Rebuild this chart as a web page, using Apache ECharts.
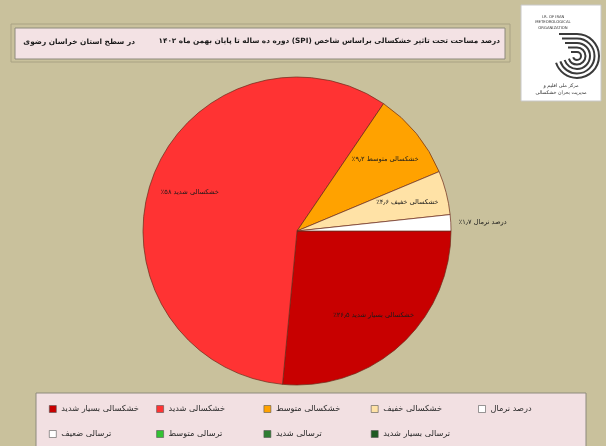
<!DOCTYPE html>
<html><head><meta charset="utf-8">
<script src="https://cdn.jsdelivr.net/npm/echarts@6/dist/echarts.min.js"></script>
<style>html,body{margin:0;padding:0;background:#c9c19c}#c{width:606px;height:446px}</style>
</head><body><div id="c" dir="rtl"></div>
<script>
// ---- data ----
const categories = ['خشکسالی بسیار شدید', 'خشکسالی شدید', 'خشکسالی متوسط', 'خشکسالی خفیف', 'درصد نرمال'];
const values = [26.5, 58.0, 9.2, 4.6, 1.7];
const colors = ['#c80000', '#ff3333', '#ffa200', '#ffe2a6', '#ffffff'];
const wetCategories = ['ترسالی ضعیف', 'ترسالی متوسط', 'ترسالی شدید', 'ترسالی بسیار شدید'];
const wetValues = [0, 0, 0, 0];
const wetColors = ['#ffffff', '#33c233', '#2e7d32', '#1e5a22'];
const titleMain = 'درصد مساحت تحت تاثیر خشکسالی براساس شاخص (SPI) دوره ده ساله تا پایان بهمن ماه ۱۴۰۲';
const titleSub = 'در سطح استان خراسان رضوی';

const FONT = 'DejaVu Sans';
const fa = v => String(v).replace(/[0-9]/g, d => '۰۱۲۳۴۵۶۷۸۹'[d]).replace('.', '٫');

const mainData = categories.map((n, i) => ({ name: n, value: values[i], itemStyle: { color: colors[i] } }))
  .concat(wetCategories.map((n, i) => ({ name: n, value: wetValues[i], itemStyle: { color: wetColors[i], borderWidth: 0 } })));

const labelData = categories.map((n, i) => {
  const d = { name: n, value: values[i] };
  if (i === categories.length - 1) {
    d.label = { position: 'outside' };
    d.labelLine = { show: false, length: 3, length2: 0 };
  }
  return d;
});

const R = 154, C = [297, 231];

const chart = echarts.init(document.getElementById('c'), null, { renderer: 'canvas' });

const spiral = [];
const sc = [577, 56];
[4, 8.5, 13, 17.5, 22].forEach((r, k) => {
  spiral.push({ type: 'arc', shape: { cx: sc[0], cy: sc[1], r: r, startAngle: -Math.PI / 2, endAngle: Math.PI * 0.9, clockwise: true },
    style: { stroke: '#3a3a3a', lineWidth: 2, fill: null } });
  spiral.push({ type: 'line', shape: { x1: sc[0] - 6 - k * 3, y1: sc[1] - r, x2: sc[0], y2: sc[1] - r },
    style: { stroke: '#3a3a3a', lineWidth: 2 } });
});

chart.setOption({
  animation: false,
  backgroundColor: '#c9c19c',
  graphic: [
    // title box
    { type: 'rect', shape: { x: 11, y: 24, width: 499, height: 38 }, style: { fill: 'none', stroke: '#a9a283', lineWidth: 1 } },
    { type: 'rect', shape: { x: 15, y: 28, width: 490, height: 31 }, style: { fill: '#f3e2e4', stroke: '#8d8a7c', lineWidth: 1 } },
    { type: 'text', style: { x: 500, y: 41, text: titleMain, textAlign: 'right', textVerticalAlign: 'middle', fontFamily: FONT, fontWeight: 'bold', fontSize: 7.3, fill: '#1a1a1a' } },
    { type: 'text', style: { x: 135, y: 42, text: titleSub, textAlign: 'right', textVerticalAlign: 'middle', fontFamily: FONT, fontWeight: 'bold', fontSize: 7.4, fill: '#1a1a1a' } },
    // legend box
    { type: 'rect', shape: { x: 36, y: 393, width: 550, height: 70 }, style: { fill: '#f2e0e2', stroke: '#8d8a7c', lineWidth: 1 } },
    // logo box
    { type: 'rect', shape: { x: 521, y: 5, width: 80, height: 96 }, style: { fill: '#ffffff', stroke: '#c8c8c8', lineWidth: 1 } },
    ...spiral,
    { type: 'text', style: { x: 553, y: 14, text: 'I.R. OF IRAN\nMETEOROLOGICAL\nORGANIZATION', textAlign: 'center', fontFamily: 'DejaVu Sans', fontSize: 3.8, lineHeight: 5.5, fill: '#333', backgroundColor: '#ffffff' } },
    { type: 'text', style: { x: 561, y: 82, text: 'مرکز ملی اقلیم و\nمدیریت بحران خشکسالی', textAlign: 'center', fontFamily: FONT, fontSize: 4.8, lineHeight: 7, fill: '#333' } }
  ],
  legend: {
    data: categories.concat(wetCategories),
    left: 44, top: 396, width: 530, orient: 'horizontal',
    itemWidth: 7, itemHeight: 7, itemGap: 9, icon: 'rect',
    itemStyle: { borderColor: '#555', borderWidth: 0.6 },
    textStyle: { fontFamily: FONT, fontSize: 8.2, color: '#2a2a2a', width: 86, lineHeight: 16, overflow: 'truncate' },
    selectedMode: false
  },
  series: [
    {
      type: 'pie', center: C, radius: [0, R], startAngle: 0, clockwise: true,
      silent: true, label: { show: false }, labelLine: { show: false },
      itemStyle: { borderColor: '#6b2a1a', borderWidth: 0.7 },
      data: mainData
    },
    {
      type: 'pie', center: C, radius: [R * 0.44, R], startAngle: 0, clockwise: true,
      silent: true,
      itemStyle: { color: 'rgba(0,0,0,0)', borderWidth: 0 },
      label: { show: true, position: 'inside', fontFamily: FONT, fontSize: 6.6, color: '#1a1a1a',
        formatter: p => p.name + ' ' + fa(p.value) + '٪' },
      labelLine: { show: false },
      data: labelData
    }
  ]
});
</script></body></html>
